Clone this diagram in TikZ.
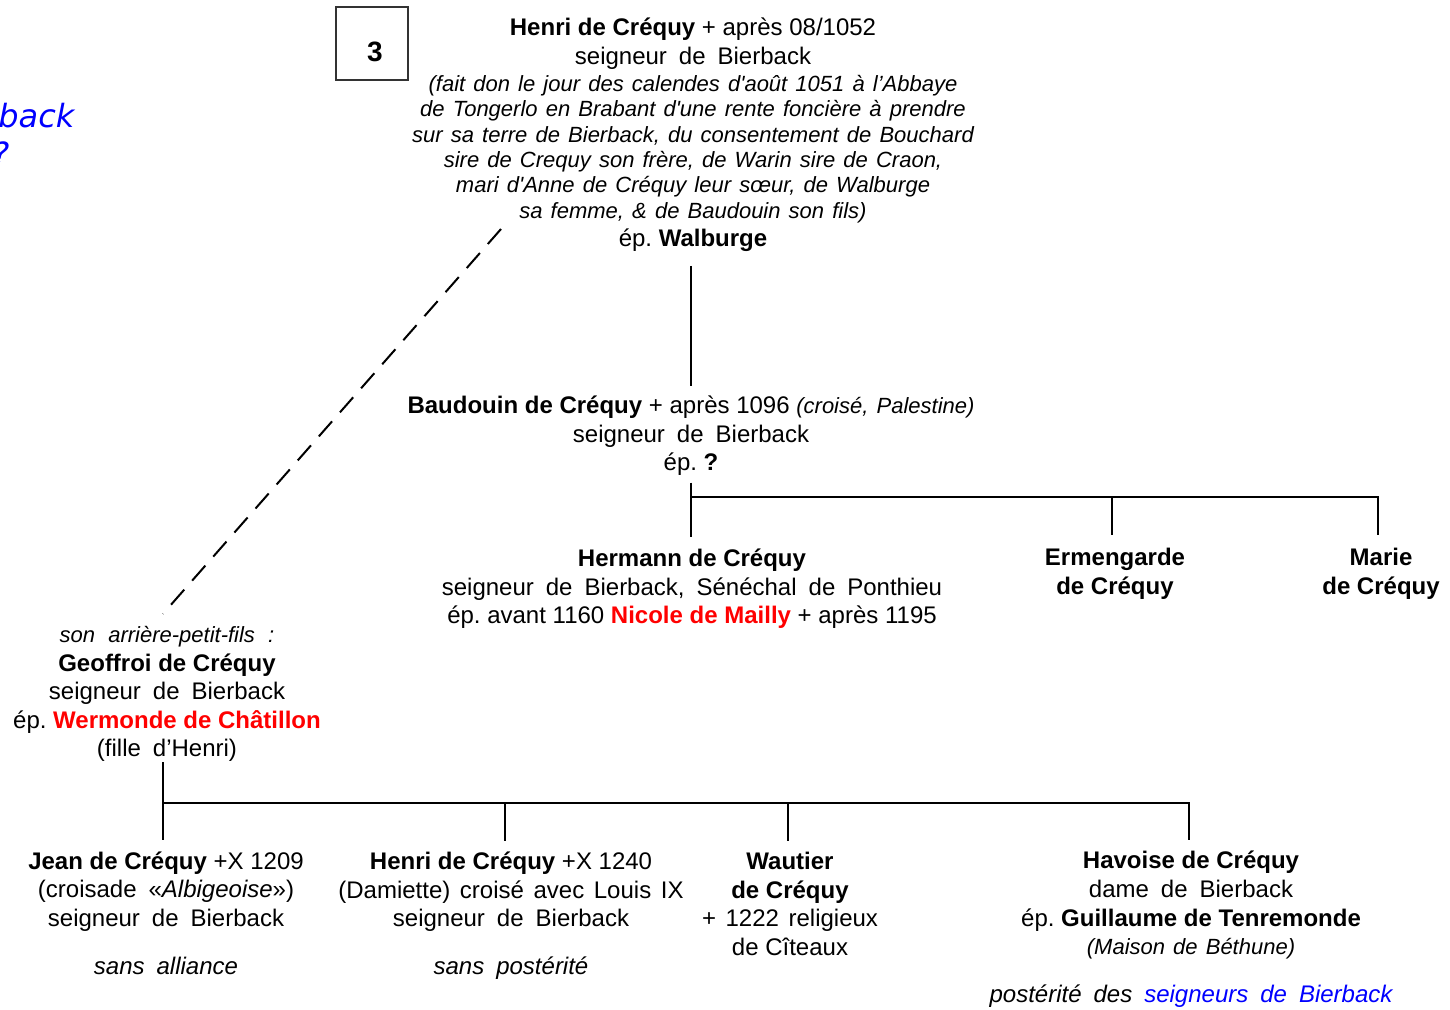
\documentclass[tikz,border=0pt]{standalone}
\usepackage{fontspec}
\setmainfont{Liberation Sans}[Ligatures=TeXOff]
\newfontfamily\verdana{DejaVu Sans}
\usepackage{xcolor}
\definecolor{linkblue}{RGB}{0,0,255}
\definecolor{namered}{RGB}{255,0,0}
\frenchspacing
\newcommand{\wide}[1]{{\spaceskip=0.5em\relax #1}}
\newcommand{\note}[1]{{\fontsize{11}{12.7}\selectfont\itshape\spaceskip=0.37em\relax #1}}
\newcommand{\spouse}[1]{\textcolor{namered}{\textbf{#1}}}

\begin{document}
\begin{tikzpicture}[x=0.5pt, y=-0.5pt,
    person/.style={align=center, inner sep=0pt, font=\fontsize{12}{14.3}\selectfont},
    branch/.style={line width=1.2pt},
    link/.style={line width=1pt, dash pattern=on 10pt off 6pt},
    stray/.style={inner sep=0pt, anchor=base west, text=linkblue, font=\verdana\itshape\fontsize{16}{19}\selectfont}]
  \useasboundingbox (0,0) rectangle (1450,1009);

  \node[stray] (bierback) at (-2,127) {back};
  \node[stray] (unknown) at (-8,165) {?};
  \node[draw=black!80, line width=0.6pt, minimum width=36pt, minimum height=36.5pt,
        text height=17.5pt, text depth=0pt, font=\bfseries\fontsize{14}{16}\selectfont] (gen) at (372,43.5) {\hspace{3pt}3};

  \node[person] (henri) at (693,135) {\textbf{Henri de Créquy} + après 08/1052\\
    \wide{seigneur de Bierback}\\[-0.8pt]
    \note{(fait don le jour des calendes d'août 1051 à l’Abbaye}\\[-1.6pt]
    \note{de Tongerlo en Brabant d'une rente foncière à prendre}\\[-1.6pt]
    \note{sur sa terre de Bierback, du consentement de Bouchard}\\[-1.6pt]
    \note{sire de Crequy son frère, de Warin sire de Craon,}\\[-1.6pt]
    \note{mari d'Anne de Créquy leur sœur, de Walburge}\\[-1.6pt]
    \note{sa femme, \& de Baudouin son fils)}\\
    ép. \textbf{Walburge}};
  \node[person] (baudouin) at (691,436) {\textbf{Baudouin de Créquy} + après 1096 \note{(croisé, Palestine)}\\
    \wide{seigneur de Bierback}\\
    ép. \textbf{?}};
  \node[person] (hermann) at (692,589) {\textbf{Hermann de Créquy}\\
    \wide{seigneur de Bierback, Sénéchal de Ponthieu}\\
    ép. avant 1160 \spouse{Nicole de Mailly} + après 1195};
  \node[person] (ermengarde) at (1115,574) {\textbf{Ermengarde}\\\textbf{de Créquy}};
  \node[person] (marie) at (1381,574) {\textbf{Marie}\\\textbf{de Créquy}};

  \node[person] (geoffroi) at (167,694) {\note{\spaceskip=0.6em\relax son arrière-petit-fils :}\\
    \textbf{Geoffroi de Créquy}\\
    \wide{seigneur de Bierback}\\
    ép. \spouse{Wermonde de Châtillon}\\
    \wide{(fille d’Henri)}};

  \node[person] (jean) at (166,913) {\textbf{Jean de Créquy} +X 1209\\
    \wide{(croisade «\textit{Albigeoise}»)}\\
    \wide{seigneur de Bierback}\\[9.7pt]
    \wide{\textit{sans alliance}}};
  \node[person] (henrib) at (511,916) {\textbf{Henri de Créquy} +X 1240\\
    {\spaceskip=0.4em\relax (Damiette) croisé avec Louis IX}\\
    \wide{seigneur de Bierback}\\[9.7pt]
    \wide{\textit{sans postérité}}};
  \node[person] (wautier) at (790,904) {\textbf{Wautier}\\
    \textbf{de Créquy}\\
    {\spaceskip=0.4em\relax + 1222 religieux}\\
    de Cîteaux};
  \node[person] (havoise) at (1191,929.5) {\textbf{Havoise de Créquy}\\
    \wide{dame de Bierback}\\
    ép. \textbf{Guillaume de Tenremonde}\\
    \note{(Maison de Béthune)}\\[9.7pt]
    \wide{\textit{postérité des \textcolor{linkblue}{seigneurs de Bierback}}}};

  % lines of descent
  \coordinate (bbar) at (691,497);
  \coordinate (gbar) at (163,803);
  \coordinate (linktop) at (501,229);

  \draw[branch]
    ([yshift=-6.7pt]henri.south -| bbar) -- ([yshift=5pt]baudouin.north -| bbar)
    ([yshift=-3.2pt]baudouin.south -| bbar) -- ([yshift=6pt]hermann.north -| bbar)
    (bbar) -- ([xshift=-1.5pt]bbar -| marie) -- ([xshift=-1.5pt,yshift=6.5pt]marie.north)
    ([xshift=-1.5pt]bbar -| ermengarde) -- ([xshift=-1.5pt,yshift=6.5pt]ermengarde.north);

  \draw[link] (linktop) -- ([yshift=6pt]geoffroi.north -| gbar);

  \draw[branch]
    (geoffroi.south -| gbar) -- ([yshift=5.5pt]jean.north -| gbar)
    (gbar) -- ([xshift=-1pt]gbar -| havoise) -- ([xshift=-1pt,yshift=5.5pt]havoise.north)
    ([xshift=-3pt]gbar -| henrib) -- ([xshift=-3pt,yshift=5.5pt]henrib.north)
    ([xshift=-1pt]gbar -| wautier) -- ([xshift=-1pt,yshift=5.5pt]wautier.north);
\end{tikzpicture}
\end{document}
